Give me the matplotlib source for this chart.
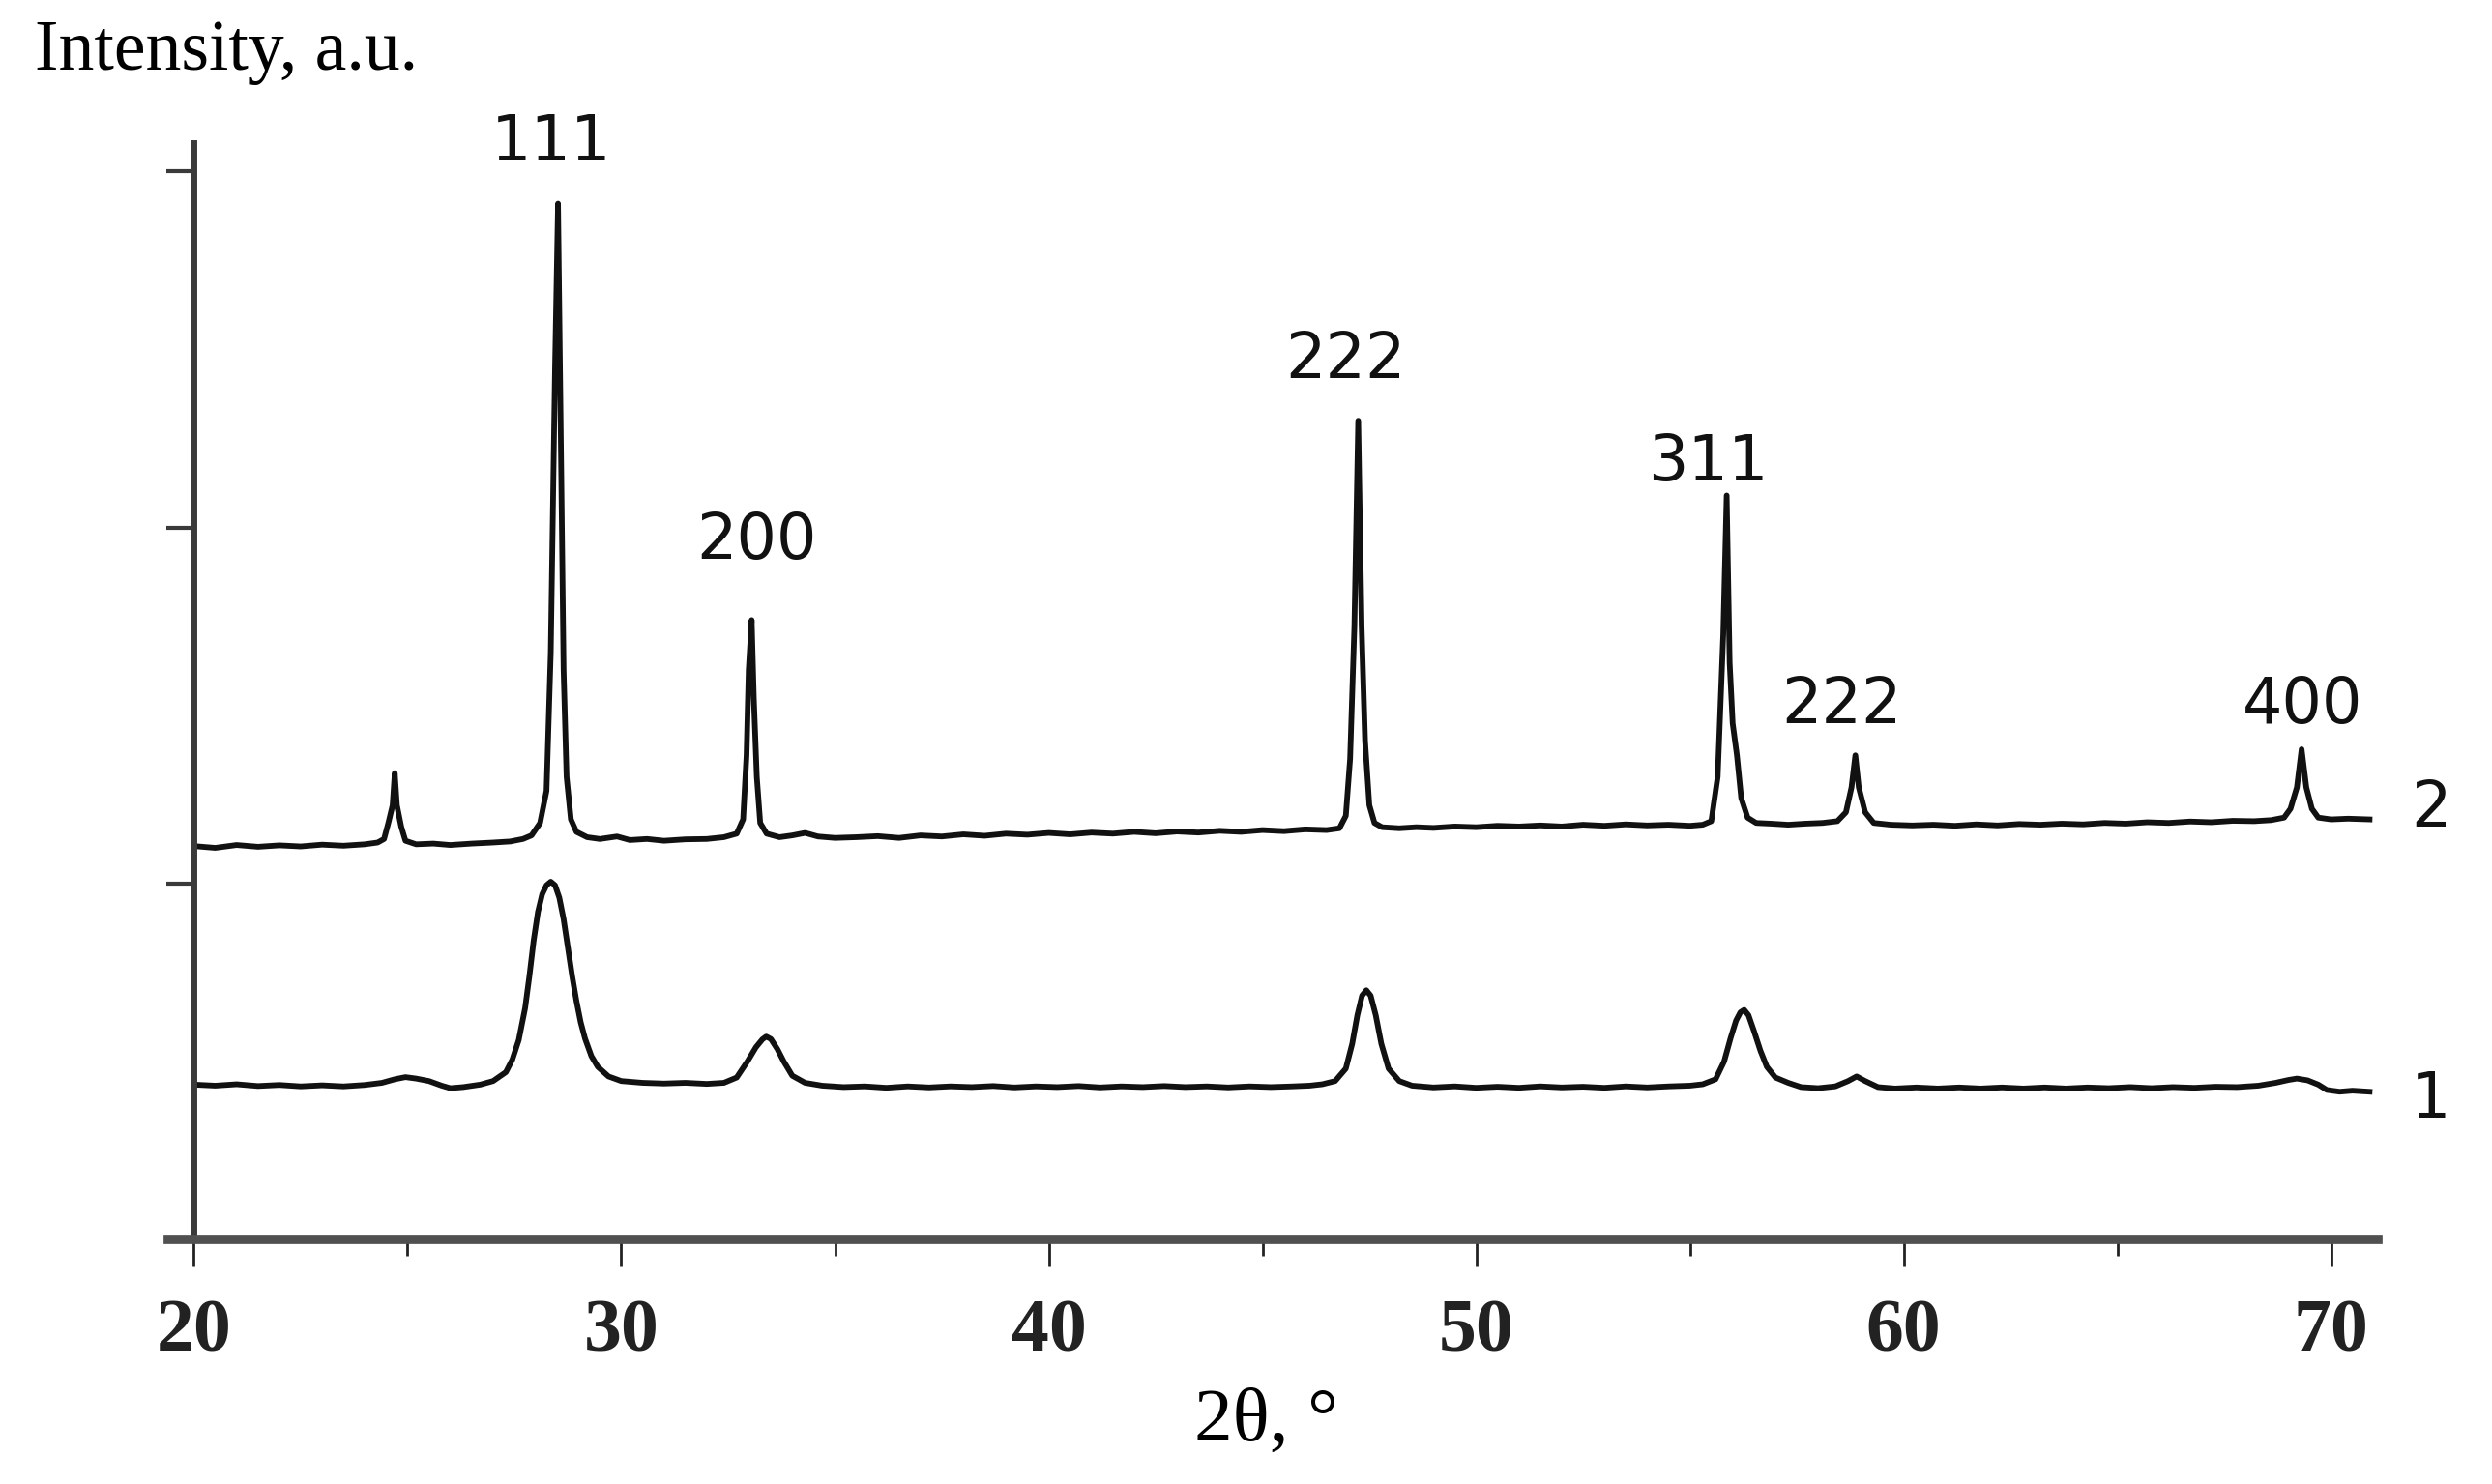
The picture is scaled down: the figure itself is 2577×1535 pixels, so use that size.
import numpy as np
import matplotlib
matplotlib.use("Agg")
import matplotlib.pyplot as plt
from matplotlib.ticker import MultipleLocator

# curve 2 (upper pattern)
x2 = [20.0, 20.5, 21.0, 21.5, 22.0, 22.5, 23.0, 23.5, 24.0, 24.3, 24.45, 24.55, 24.65, 24.70, 24.75,
      24.85, 24.95, 25.2, 25.6, 26.0, 26.5, 27.0, 27.4, 27.7, 27.9, 28.1, 28.25, 28.35, 28.45, 28.52,
      28.58, 28.65, 28.72, 28.82, 28.95, 29.2, 29.5, 29.9, 30.2, 30.6, 31.0, 31.5, 32.0, 32.4, 32.7,
      32.85, 32.93, 32.98, 33.05, 33.1, 33.17, 33.25, 33.4, 33.7, 34.0, 34.3, 34.6, 35.0, 35.5, 36.0,
      36.5, 37.0, 37.5, 38.0, 38.5, 39.0, 39.5, 40.0, 40.5, 41.0, 41.5, 42.0, 42.5, 43.0, 43.5,
      44.0, 44.5, 45.0, 45.5, 46.0, 46.5, 46.8, 46.95, 47.05, 47.15, 47.24, 47.32, 47.40, 47.5, 47.62,
      47.8, 48.2, 48.6, 49.0, 49.5, 50.0, 50.5, 51.0, 51.5, 52.0, 52.5, 53.0, 53.5, 54.0, 54.5,
      55.0, 55.3, 55.5, 55.65, 55.78, 55.86, 55.93, 56.0, 56.1, 56.2, 56.35, 56.55, 56.9, 57.3, 57.7,
      58.1, 58.45, 58.65, 58.78, 58.87, 58.95, 59.1, 59.3, 59.7, 60.2, 60.7, 61.2, 61.7, 62.2, 62.7,
      63.2, 63.7, 64.2, 64.7, 65.2, 65.7, 66.2, 66.7, 67.2, 67.7, 68.2, 68.6, 68.9, 69.05, 69.2,
      69.31, 69.42, 69.55, 69.7, 70.0, 70.4, 70.9]
y2 = [1.105, 1.100, 1.108, 1.103, 1.107, 1.104, 1.109, 1.106, 1.110, 1.115, 1.125, 1.17, 1.22, 1.31, 1.22,
      1.16, 1.12, 1.110, 1.112, 1.108, 1.112, 1.115, 1.118, 1.125, 1.135, 1.17, 1.26, 1.65, 2.45, 2.91,
      2.30, 1.60, 1.30, 1.18, 1.145, 1.13, 1.125, 1.132, 1.122, 1.125, 1.12, 1.124, 1.125, 1.13, 1.14,
      1.18, 1.36, 1.60, 1.74, 1.52, 1.30, 1.17, 1.14, 1.13, 1.135, 1.142, 1.132, 1.128, 1.13, 1.133,
      1.128, 1.135, 1.132, 1.138, 1.134, 1.14, 1.137, 1.142, 1.138, 1.143, 1.14, 1.145, 1.141, 1.146, 1.143,
      1.148, 1.145, 1.15, 1.147, 1.152, 1.15, 1.155, 1.19, 1.35, 1.72, 2.30, 1.72, 1.40, 1.22, 1.17,
      1.158, 1.155, 1.158, 1.156, 1.16, 1.158, 1.162, 1.16, 1.163, 1.16, 1.165, 1.162, 1.166, 1.163, 1.165,
      1.162, 1.165, 1.175, 1.30, 1.70, 2.09, 1.62, 1.45, 1.36, 1.24, 1.185, 1.17, 1.168, 1.165, 1.168,
      1.17, 1.175, 1.20, 1.27, 1.36, 1.27, 1.20, 1.17, 1.165, 1.163, 1.165, 1.162, 1.166, 1.163, 1.167,
      1.165, 1.168, 1.166, 1.17, 1.168, 1.172, 1.17, 1.174, 1.172, 1.176, 1.175, 1.178, 1.185, 1.21, 1.27,
      1.377, 1.27, 1.21, 1.185, 1.18, 1.182, 1.18]

# curve 1 (lower pattern)
x1 = [20.0, 20.5, 21.0, 21.5, 22.0, 22.5, 23.0, 23.5, 24.0, 24.4, 24.7, 24.95, 25.2, 25.5, 25.8,
      26.0, 26.3, 26.7, 27.0, 27.3, 27.45, 27.6, 27.75, 27.85, 27.95, 28.05, 28.15, 28.25, 28.35, 28.45,
      28.55, 28.65, 28.75, 28.85, 28.95, 29.05, 29.15, 29.3, 29.45, 29.7,
      30.0, 30.5, 31.0, 31.5, 32.0, 32.4, 32.7, 32.95, 33.15, 33.3, 33.39, 33.5, 33.65, 33.8, 34.0, 34.3,
      34.7, 35.2, 35.7, 36.2, 36.7, 37.2, 37.7, 38.2, 38.7, 39.2, 39.7, 40.2, 40.7, 41.2, 41.7,
      42.2, 42.7, 43.2, 43.7, 44.2, 44.7, 45.2, 45.7, 46.1, 46.4, 46.7, 46.95, 47.1, 47.22, 47.33, 47.43,
      47.53, 47.65, 47.78, 47.95, 48.2, 48.5, 49.0, 49.5, 50.0, 50.5, 51.0, 51.5, 52.0, 52.5, 53.0, 53.5,
      54.0, 54.5, 55.0, 55.3, 55.6, 55.8, 55.95, 56.08, 56.18, 56.27, 56.37, 56.5, 56.65, 56.8, 57.0, 57.3, 57.6,
      58.0, 58.4, 58.7, 58.9, 59.1, 59.4, 59.8, 60.3, 60.8, 61.3, 61.8, 62.3, 62.8, 63.3, 63.8,
      64.3, 64.8, 65.3, 65.8, 66.3, 66.8, 67.3, 67.8, 68.3, 68.7, 69.0, 69.2, 69.45, 69.7, 69.9,
      70.2, 70.5, 70.9]
y1 = [0.435, 0.432, 0.436, 0.431, 0.434, 0.430, 0.433, 0.430, 0.434, 0.440, 0.450, 0.456, 0.452, 0.445, 0.432,
      0.425, 0.428, 0.435, 0.445, 0.470, 0.505, 0.560, 0.650, 0.740, 0.840, 0.920, 0.970, 0.995, 1.005, 0.995,
      0.960, 0.900, 0.820, 0.740, 0.670, 0.610, 0.565, 0.515, 0.485, 0.458,
      0.445, 0.440, 0.438, 0.440, 0.437, 0.440, 0.455, 0.500, 0.540, 0.562, 0.570, 0.563, 0.535, 0.500, 0.460, 0.440,
      0.432, 0.428, 0.430, 0.426, 0.430, 0.427, 0.430, 0.428, 0.431, 0.427, 0.430, 0.428, 0.431, 0.427, 0.430,
      0.428, 0.431, 0.428, 0.430, 0.427, 0.430, 0.428, 0.430, 0.432, 0.436, 0.445, 0.480, 0.550, 0.630, 0.685, 0.700,
      0.685, 0.630, 0.550, 0.480, 0.445, 0.432, 0.427, 0.430, 0.426, 0.429, 0.426, 0.430, 0.427, 0.429, 0.426, 0.430,
      0.427, 0.430, 0.432, 0.436, 0.450, 0.500, 0.565, 0.615, 0.638, 0.645, 0.630, 0.585, 0.530, 0.485, 0.455, 0.440, 0.428,
      0.425, 0.430, 0.445, 0.458, 0.445, 0.428, 0.424, 0.427, 0.424, 0.427, 0.424, 0.427, 0.424, 0.427, 0.424,
      0.427, 0.425, 0.428, 0.425, 0.428, 0.426, 0.429, 0.428, 0.432, 0.440, 0.448, 0.452, 0.447, 0.435, 0.420,
      0.415, 0.418, 0.415]

peak_labels = ["111", "200", "222", "311", "222", "400"]
peak_label_x = [28.36, 33.16, 46.95, 55.43, 58.55, 69.33]
peak_label_y = [3.08, 1.96, 2.47, 2.18, 1.50, 1.50]

curve_names = ["2", "1"]
curve_name_y = [1.21, 0.39]

fig = plt.figure(figsize=(25.77, 15.35), dpi=100)
ax = fig.add_axes([0.0675, 0.1648, 0.9543 - 0.0675, 0.9036 - 0.1648])

ax.plot(x2, y2, color="#111111", linewidth=4.2, solid_joinstyle="round")
ax.plot(x1, y1, color="#111111", linewidth=4.2, solid_joinstyle="round")

ax.set_xlim(19.4, 71.1)
ax.set_ylim(0, 3.08)

ax.spines["top"].set_visible(False)
ax.spines["right"].set_visible(False)
ax.spines["left"].set_position(("data", 20))
ax.spines["left"].set_linewidth(5)
ax.spines["left"].set_color("#3a3a3a")
ax.spines["bottom"].set_linewidth(7)
ax.spines["bottom"].set_color("#505050")

ax.xaxis.set_major_locator(MultipleLocator(10))
ax.xaxis.set_minor_locator(MultipleLocator(5))
ax.set_xticks([20, 30, 40, 50, 60, 70])
ax.set_yticks([1, 2, 3])
ax.set_yticklabels([])
ax.tick_params(axis="x", which="major", direction="out", length=20, width=2, color="#222222", pad=24)
ax.tick_params(axis="x", which="minor", direction="out", length=12, width=2, color="#222222")
ax.tick_params(axis="y", which="major", direction="out", length=20, width=3, color="#3a3a3a")
for lab in ax.get_xticklabels():
    lab.set_fontfamily("Liberation Serif")
    lab.set_fontweight("bold")
    lab.set_fontsize(56)
    lab.set_color("#222222")

ax.set_xlabel("2θ, °", fontfamily="Liberation Serif", fontsize=57)
ax.xaxis.set_label_coords(0.497, -0.135)

for txt, px, py in zip(peak_labels, peak_label_x, peak_label_y):
    ax.text(px, py, txt, ha="center", va="center", fontsize=47,
            fontfamily="DejaVu Sans", color="#111111", clip_on=False)

for txt, py in zip(curve_names, curve_name_y):
    ax.text(72.34, py, txt, ha="center", va="center", fontsize=47,
            fontfamily="DejaVu Sans", color="#111111", clip_on=False)

fig.text(0.014, 0.953, "Intensity, a.u.", fontfamily="Liberation Serif",
         fontsize=53, ha="left", va="baseline")

fig.savefig("out.png", dpi=100)
